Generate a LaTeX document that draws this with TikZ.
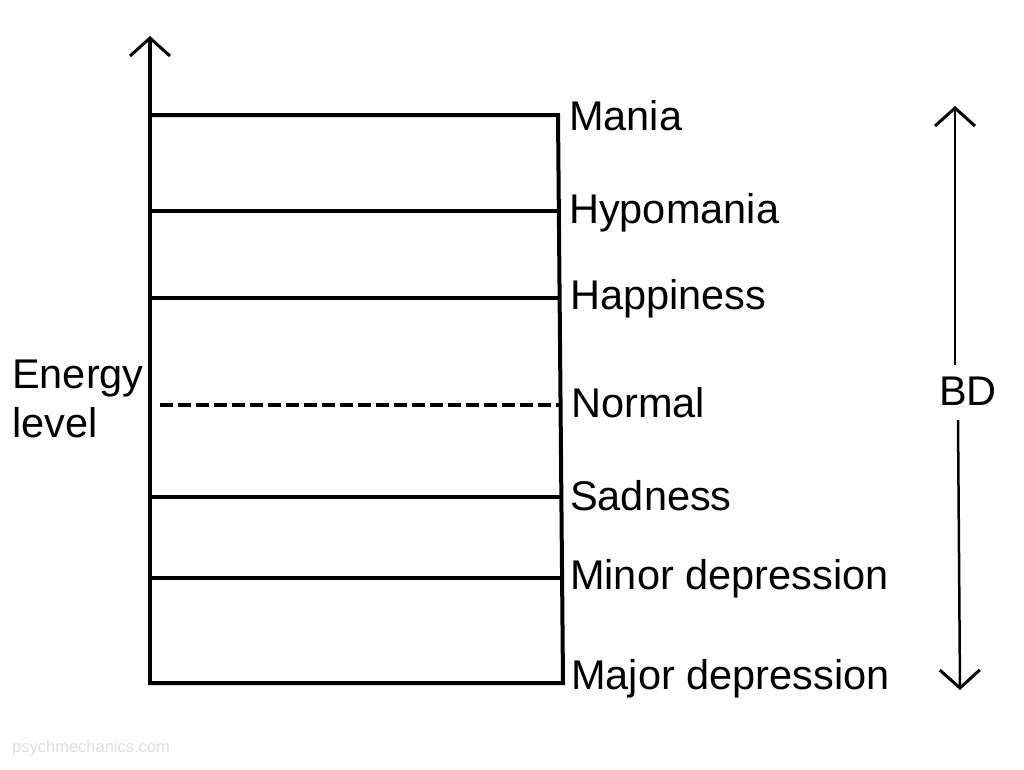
\documentclass[tikz,border=0pt]{standalone}
\usepackage{fontspec}
\setmainfont{Liberation Sans}
\usetikzlibrary{arrows.meta}
\begin{document}
\begin{tikzpicture}[x=1pt,y=-1pt,
  boxline/.style={line width=4pt,line cap=rect},
  levelline/.style={line width=3.5pt},
  normalline/.style={line width=3.8pt,dash pattern=on 13pt off 5pt},
  lbl/.style={anchor=west,inner sep=0pt,font=\fontsize{41.5}{49}\selectfont},
  barb/.style={-{Straight Barb[length=18pt,width=40pt,line width=3pt]}}
]
\useasboundingbox (0,0) rectangle (1024,769);
% corners
\coordinate (tl) at (150,115);
\coordinate (tr) at (558,115);
\coordinate (bl) at (150,683);
\coordinate (br) at (563,683);
\coordinate (axtop) at (150,36);
% level line ends
\coordinate (l2) at (150,211); \coordinate (r2) at (559,211);
\coordinate (l3) at (150,298); \coordinate (r3) at (560,298);
\coordinate (l4) at (160,405); \coordinate (r4) at (560,405);
\coordinate (l5) at (150,497); \coordinate (r5) at (561,497);
\coordinate (l6) at (150,578); \coordinate (r6) at (562,578);
% axis
\draw[line width=4pt,barb] (bl) -- (axtop);
% box
\draw[boxline] (tl) -- (tr) -- (br) -- (bl);
% levels
\draw[levelline] (l2) -- (r2);
\draw[levelline] (l3) -- (r3);
\draw[normalline] (l4) -- (r4);
\draw[levelline] (l5) -- (r5);
\draw[levelline] (l6) -- (r6);
% labels
\node[lbl] (mania) at (569,116) {Mania};
\node[lbl] (hypo) at (569,213) {Hypomania};
\node[lbl] (happy) at (570,299) {Happiness};
\node[lbl] (normal) at (571,403) {Normal};
\node[lbl] (sad) at (570,496) {Sadness};
\node[lbl] (minor) at (570,579) {Minor depression};
\node[lbl] (major) at (571,679) {Major depression};
\node[lbl,align=left] (energy) at (12,399) {Energy\\level};
% BD arrow
\node[lbl] (bd) at (939,391) {BD};
\coordinate (bdtop) at (955,106);
\coordinate (bdbot) at (960,690);
\draw[line width=2.5pt,barb] (955,365) -- (bdtop);
\draw[line width=2.5pt,barb] (958,420) -- (bdbot);
% watermark
\node[anchor=west,inner sep=0pt,text=black!13,font=\fontsize{16.5}{18}\selectfont] (wm) at (12,748) {psychmechanics.com};
\end{tikzpicture}
\end{document}
